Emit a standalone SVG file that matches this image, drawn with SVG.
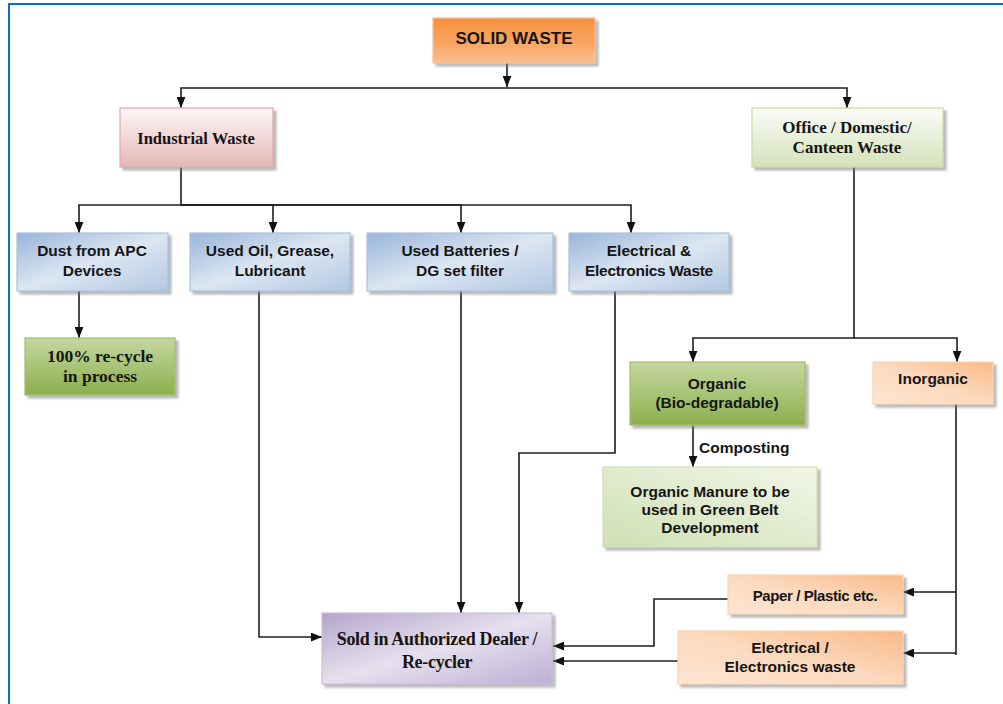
<svg xmlns="http://www.w3.org/2000/svg" width="1003" height="704" viewBox="0 0 1003 704">
<defs>
<style>
.sans{font-family:"Liberation Sans",Arial,sans-serif;font-weight:bold;fill:#151515;text-anchor:middle}
.serif{font-family:"Liberation Serif","Times New Roman",serif;font-weight:bold;fill:#151515;text-anchor:middle}
.box{filter:url(#sh);stroke-width:1.2}
.con{fill:none;stroke:#1e1e1e;stroke-width:1.6}
.arr{marker-end:url(#ah)}
</style>
<marker id="ah" markerUnits="userSpaceOnUse" viewBox="0 0 10 8" markerWidth="11" markerHeight="9" refX="10" refY="4" orient="auto">
<path d="M0,0 L10,4 L0,8 z" fill="#111"/>
</marker>
<filter id="sh" x="-10%" y="-10%" width="125%" height="130%">
<feDropShadow dx="3" dy="3" stdDeviation="1" flood-color="#7f7f7f" flood-opacity="0.55"/>
</filter>
<linearGradient id="gOrange" x1="0" y1="0" x2="0" y2="1">
<stop offset="0" stop-color="#F6913E"/><stop offset="0.55" stop-color="#F8A461"/><stop offset="1" stop-color="#FAC092"/>
</linearGradient>
<linearGradient id="gPink" x1="0" y1="0" x2="0" y2="1">
<stop offset="0" stop-color="#FDF7F7"/><stop offset="1" stop-color="#E5B7B6"/>
</linearGradient>
<linearGradient id="gLGreen" x1="0" y1="0" x2="0" y2="1">
<stop offset="0" stop-color="#FBFCF8"/><stop offset="1" stop-color="#D4E2BA"/>
</linearGradient>
<linearGradient id="gManure" x1="0" y1="1" x2="1" y2="0">
<stop offset="0" stop-color="#CFE0B3"/><stop offset="1" stop-color="#F1F6E8"/>
</linearGradient>
<linearGradient id="gBlue" x1="0" y1="0" x2="1" y2="1">
<stop offset="0" stop-color="#98B5D9"/><stop offset="0.5" stop-color="#DCE6F2"/><stop offset="1" stop-color="#B3C8E3"/>
</linearGradient>
<linearGradient id="gDGreen" x1="0" y1="0" x2="0" y2="1">
<stop offset="0" stop-color="#C4D89F"/><stop offset="1" stop-color="#8CAF4E"/>
</linearGradient>
<linearGradient id="gPeach" x1="0" y1="1" x2="1" y2="0">
<stop offset="0" stop-color="#FDE6D3"/><stop offset="0.5" stop-color="#FCD9BD"/><stop offset="1" stop-color="#F9B987"/>
</linearGradient>
<linearGradient id="gPurple" x1="0" y1="0" x2="1" y2="1">
<stop offset="0" stop-color="#B5A5CA"/><stop offset="0.5" stop-color="#E6E0EE"/><stop offset="1" stop-color="#BDAFD2"/>
</linearGradient>
</defs>
<rect x="0" y="0" width="1003" height="704" fill="#ffffff"/>
<path d="M9,704 V4 H1003" fill="none" stroke="#0A70C4" stroke-width="2"/>

<g id="connectors">
<path class="con arr" d="M507,63 V87"/>
<path class="con arr" d="M507,88 H181 V108"/>
<path class="con arr" d="M507,88 H847 V108"/>
<path class="con" d="M181,167 V205"/>
<path class="con arr" d="M181,205 H79 V233"/>
<path class="con arr" d="M181,205 H273 V233"/>
<path class="con arr" d="M181,205 H461 V233"/>
<path class="con arr" d="M181,205 H631 V233"/>
<path class="con arr" d="M79,291 V338"/>
<path class="con arr" d="M259,291 V637 H322"/>
<path class="con arr" d="M461,291 V613"/>
<path class="con arr" d="M615,291 V453 H519 V613"/>
<path class="con" d="M854,167 V338"/>
<path class="con arr" d="M854,338 H693 V362"/>
<path class="con arr" d="M854,338 H957 V362"/>
<path class="con arr" d="M693,425 V467"/>
<path class="con" d="M956,404 V655"/>
<path class="con arr" d="M956,592 H903"/>
<path class="con arr" d="M956,653 H903"/>
<path class="con arr" d="M728,599 H654 V646 H553"/>
<path class="con arr" d="M678,661 H553"/>
</g>

<g id="solid-waste">
<rect class="box" x="433" y="18" width="162" height="45" fill="url(#gOrange)" stroke="#FAC090"/>
<text class="sans" x="514" y="44" font-size="17">SOLID WASTE</text>
</g>
<g id="industrial-waste">
<rect class="box" x="120" y="108" width="153" height="59" fill="url(#gPink)" stroke="#E0A9A7"/>
<text class="serif" x="196" y="144" font-size="16.5">Industrial Waste</text>
</g>
<g id="office-waste">
<rect class="box" x="752" y="108" width="191" height="59" fill="url(#gLGreen)" stroke="#C8DAA4"/>
<text class="serif" x="847" y="133" font-size="17">Office / Domestic/</text>
<text class="serif" x="847" y="153" font-size="17">Canteen Waste</text>
</g>
<g id="dust-apc">
<rect class="box" x="17" y="233" width="151" height="58" fill="url(#gBlue)" stroke="#A9C1DE"/>
<text class="sans" x="92" y="256" font-size="15.5">Dust from APC</text>
<text class="sans" x="92" y="276" font-size="15.5">Devices</text>
</g>
<g id="used-oil">
<rect class="box" x="190" y="233" width="160" height="58" fill="url(#gBlue)" stroke="#A9C1DE"/>
<text class="sans" x="270" y="256" font-size="15.5">Used Oil, Grease,</text>
<text class="sans" x="270" y="276" font-size="15.5">Lubricant</text>
</g>
<g id="used-batteries">
<rect class="box" x="367" y="233" width="186" height="58" fill="url(#gBlue)" stroke="#A9C1DE"/>
<text class="sans" x="460" y="256" font-size="15.5">Used Batteries /</text>
<text class="sans" x="460" y="276" font-size="15.5">DG set filter</text>
</g>
<g id="electrical-waste">
<rect class="box" x="569" y="233" width="160" height="58" fill="url(#gBlue)" stroke="#A9C1DE"/>
<text class="sans" x="649" y="256" font-size="15.5">Electrical &amp;</text>
<text class="sans" x="649" y="276" font-size="15.5" letter-spacing="-0.3">Electronics Waste</text>
</g>
<g id="recycle">
<rect class="box" x="25" y="338" width="150" height="57" fill="url(#gDGreen)" stroke="#A3C064"/>
<text class="serif" x="100" y="362" font-size="17.5">100% re-cycle</text>
<text class="serif" x="100" y="382" font-size="17.5">in process</text>
</g>
<g id="organic">
<rect class="box" x="630" y="362" width="175" height="63" fill="url(#gDGreen)" stroke="#A3C064"/>
<text class="sans" x="717" y="389" font-size="15.5">Organic</text>
<text class="sans" x="717" y="408" font-size="15.5">(Bio-degradable)</text>
</g>
<g id="inorganic">
<rect class="box" x="873" y="362" width="120" height="42" fill="url(#gPeach)" stroke="#FBD3B4"/>
<text class="sans" x="933" y="384" font-size="15.5">Inorganic</text>
</g>
<g id="composting-label">
<text class="sans" x="699" y="453" font-size="15.5" style="text-anchor:start">Composting</text>
</g>
<g id="manure">
<rect class="box" x="603" y="467" width="214" height="80" fill="url(#gManure)" stroke="#D0E0B4"/>
<text class="sans" x="710" y="497" font-size="15.5">Organic Manure to be</text>
<text class="sans" x="710" y="515" font-size="15.5">used in Green Belt</text>
<text class="sans" x="710" y="533" font-size="15.5">Development</text>
</g>
<g id="sold-dealer">
<rect class="box" x="322" y="613" width="230" height="71" fill="url(#gPurple)" stroke="#C9BEDA"/>
<text class="serif" x="437" y="645" font-size="18" letter-spacing="-0.3">Sold in Authorized Dealer /</text>
<text class="serif" x="437" y="668" font-size="18" letter-spacing="-0.3">Re-cycler</text>
</g>
<g id="paper-plastic">
<rect class="box" x="728" y="575" width="175" height="39" fill="url(#gPeach)" stroke="#FBD3B4"/>
<text class="sans" x="815" y="601" font-size="15" letter-spacing="-0.4">Paper / Plastic etc.</text>
</g>
<g id="electronics-waste">
<rect class="box" x="678" y="631" width="225" height="53" fill="url(#gPeach)" stroke="#FBD3B4"/>
<text class="sans" x="790" y="653" font-size="15.5">Electrical /</text>
<text class="sans" x="790" y="672" font-size="15.5">Electronics waste</text>
</g>
</svg>
